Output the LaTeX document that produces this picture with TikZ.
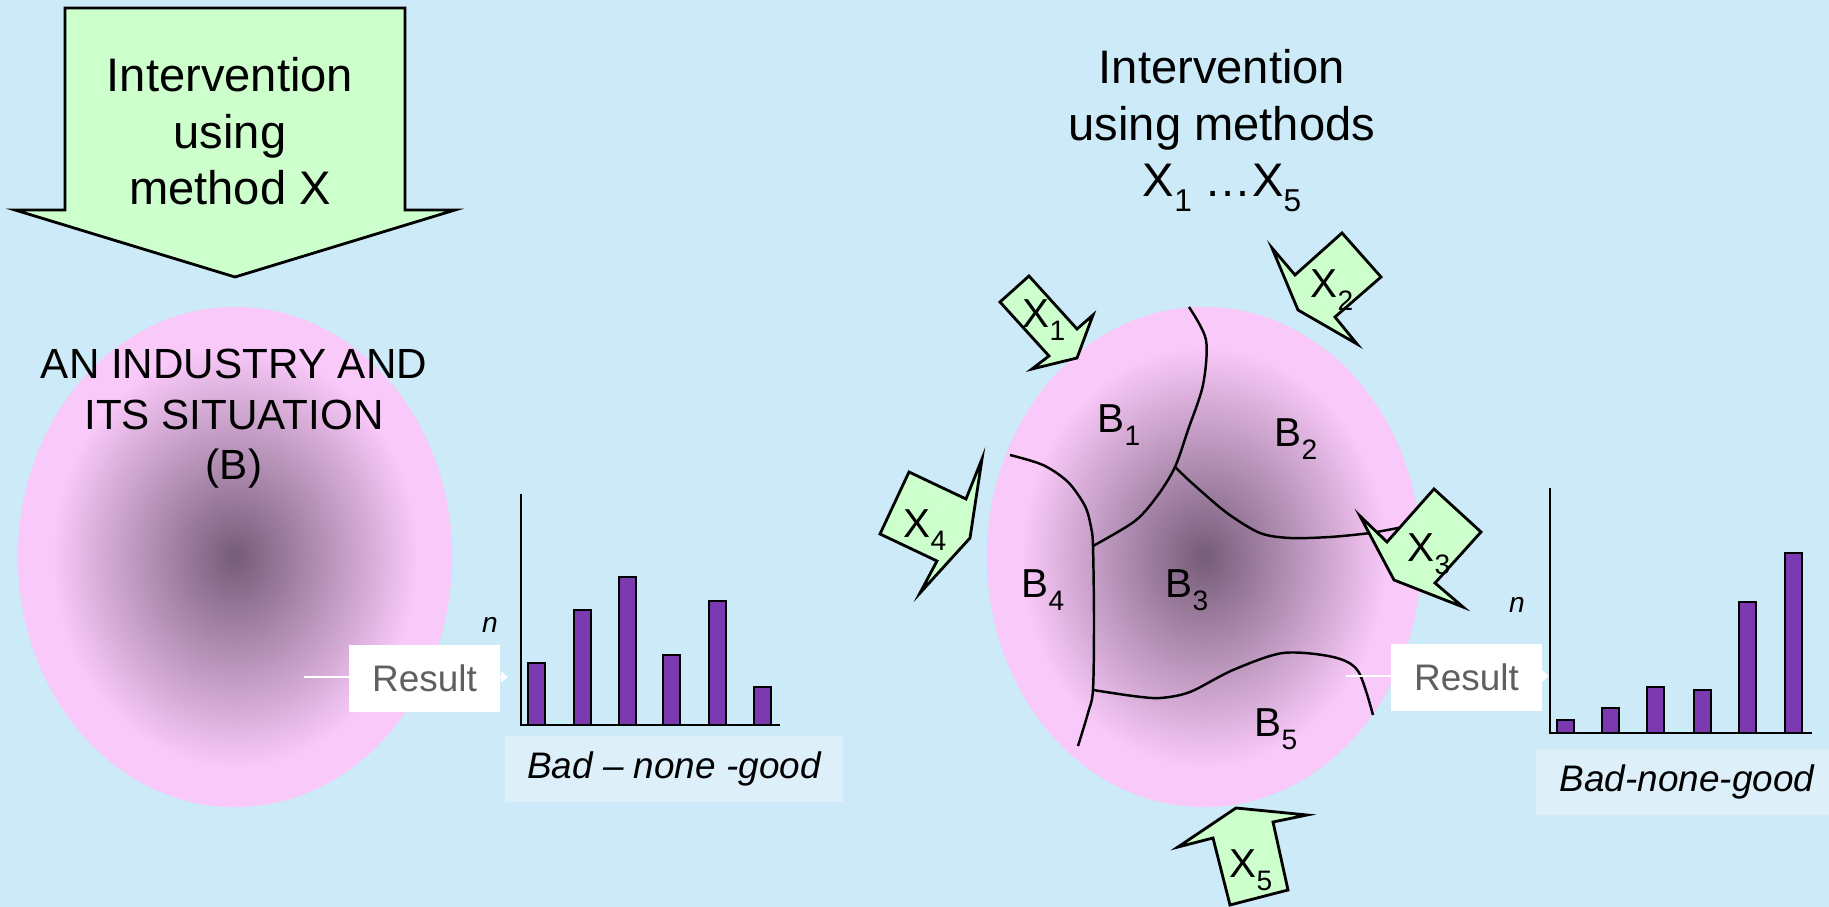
\documentclass[tikz,border=0pt]{standalone}
\usepackage{fontspec}
\setmainfont{Liberation Sans}
\usepackage{tikz}
\usetikzlibrary{arrows.meta,positioning}
\definecolor{ibg}{HTML}{CCEAF7}
\definecolor{igreen}{HTML}{CCFFCC}
\definecolor{ipink}{HTML}{F9C9F9}
\definecolor{idark}{HTML}{755C78}
\definecolor{ipurple}{HTML}{7B3AAF}
\definecolor{ilabel}{HTML}{DDF0FA}
\definecolor{igray}{HTML}{5F5F5F}
\pgfdeclareradialshading{blob}{\pgfpoint{0bp}{0bp}}{color(0bp)=(idark); color(21bp)=(ipink); color(50bp)=(ipink)}
\newcommand{\sbx}[2][8]{\raisebox{-0.3em}{\fontsize{#1}{#1}\selectfont #2}}

\begin{document}
\begin{tikzpicture}[x=0.01cm, y=-0.01cm,
    callout/.style={draw=black, fill=igreen, line width=0.8pt, line join=miter},
    border/.style={draw=black, line width=0.7pt},
    bar/.style={draw=black, fill=ipurple, line width=0.7pt},
    axisline/.style={draw=black, line width=0.8pt},
    title/.style={font=\fontsize{13.4}{16.2}\selectfont, align=center, anchor=base},
    tag/.style={font=\fontsize{11.5}{14}\selectfont, anchor=base},
    nlabel/.style={font=\fontsize{8}{10}\selectfont\itshape, anchor=base},
    resultbox/.style={fill=white, minimum width=1.51cm, minimum height=0.67cm, font=\fontsize{10.5}{12}\selectfont, text=igray, inner sep=0pt},
    scalebox/.style={fill=ilabel, minimum height=0.65cm, font=\fontsize{10.5}{12}\selectfont\itshape, inner sep=0pt},
    link/.style={draw=white, line width=0.6pt, -{Triangle[length=2pt, width=3.2pt]}}
]
    \useasboundingbox[fill=ibg] (0,0) rectangle (1829,907);

    % left: one method
    \draw[callout] (65,8) -- (405,8) -- (405,210) -- (455,210) -- (235,277) -- (15,210) -- (65,210) -- cycle;
    \node[title] (introL) at (230,205) {Intervention\\using\\method X};

    \shade[shading=blob] (235,557) ellipse [x radius=2.17cm, y radius=2.5cm];
    \node[font=\fontsize{12}{14.5}\selectfont, align=center, anchor=base] (indL) at (234,480) {AN INDUSTRY AND\\ITS SITUATION\\(B)};

    \coordinate (fromL) at (304,677);
    \coordinate (toL) at (508,677);
    \draw[link] (fromL) -- (toL);
    \node[resultbox] (resL) at (424.5,678.5) {Result};

    \draw[axisline] (521,494) -- (521,725) -- (780,725);
    \foreach \x/\t in {528/663, 574/610, 619/577, 663/655, 709/601, 754/687}
        \draw[bar] (\x,725) rectangle (\x+17,\t);
    \node[nlabel] (nL) at (490,633) {n};
    \node[scalebox, minimum width=3.38cm] (scaleL) at (674,769) {Bad -- none -good};

    % right: five methods
    \node[title] (introR) at (1222,197) {Intervention\\using methods\\X\sbx[9]{1} \dots X\sbx[9]{5}};

    \shade[shading=blob] (1204,557) ellipse [x radius=2.17cm, y radius=2.5cm];

    \coordinate (j1) at (1175,467);
    \coordinate (j2) at (1093,546);
    \coordinate (j3) at (1093,690);
    \draw[border] plot[smooth] coordinates {(1189,307) (1206,340) (1203,385) (1188,430) (j1) (1158,495) (1135,521) (j2)};
    \draw[border] plot[smooth] coordinates {(j1) (1193,484) (1227,513) (1260,533) (1290,538) (1330,537) (1370,533) (1403,527)};
    \draw[border] plot[smooth] coordinates {(1010,455) (1043,465) (1068,482) (1085,506) (1091,527) (j2) (1094,620) (j3) (1088,713) (1078,746)};
    \draw[border] plot[smooth] coordinates {(j3) (1133,696) (1160,698) (1190,692) (1233,670) (1283,653) (1333,657) (1358,671) (1373,715)};

    \coordinate (fromR) at (1346,676);
    \coordinate (toR) at (1549,676);
    \draw[link] (fromR) -- (toR);
    \node[resultbox] (resR) at (1466.5,677.5) {Result};

    \draw[callout] (1000,302) -- (1029,276) -- (1077,329) -- (1093,315) -- (1077,358) -- (1032,369) -- (1049,356) -- cycle;
    \draw[callout] (1342,233) -- (1381,277) -- (1335,317) -- (1357,344) -- (1298,310) -- (1272,248) -- (1295,275) -- cycle;
    \draw[callout] (1434,489) -- (1481,532) -- (1435,583) -- (1463,607) -- (1394,580) -- (1360,516) -- (1387,542) -- cycle;
    \draw[callout] (909,472) -- (966,499) -- (982,459) -- (970,538) -- (920,593) -- (937,561) -- (880,534) -- cycle;
    \draw[callout] (1230,905) -- (1213,838) -- (1178,847) -- (1236,808) -- (1307,815) -- (1273,822) -- (1288,890) -- cycle;

    \node[tag] (x1) at (1044,328) {X\sbx{1}};
    \node[tag] (x2) at (1332,298) {X\sbx{2}};
    \node[tag] (x3) at (1429,562) {X\sbx{3}};
    \node[tag] (x4) at (925,538) {X\sbx{4}};
    \node[tag] (x5) at (1251,878) {X\sbx{5}};

    \node[tag] (b1) at (1119,433) {B\sbx{1}};
    \node[tag] (b2) at (1296,447) {B\sbx{2}};
    \node[tag] (b3) at (1187,598) {B\sbx{3}};
    \node[tag] (b4) at (1043,598) {B\sbx{4}};
    \node[tag] (b5) at (1276,737) {B\sbx{5}};

    \draw[axisline] (1550,488) -- (1550,733) -- (1812,733);
    \foreach \x/\t in {1557/720, 1602/708, 1647/687, 1694/690, 1739/602, 1785/553}
        \draw[bar] (\x,733) rectangle (\x+17,\t);
    \node[nlabel] (nR) at (1517,613) {n};
    \node[scalebox, minimum width=3.02cm] (scaleR) at (1687,782) {Bad-none-good};
\end{tikzpicture}
\end{document}
